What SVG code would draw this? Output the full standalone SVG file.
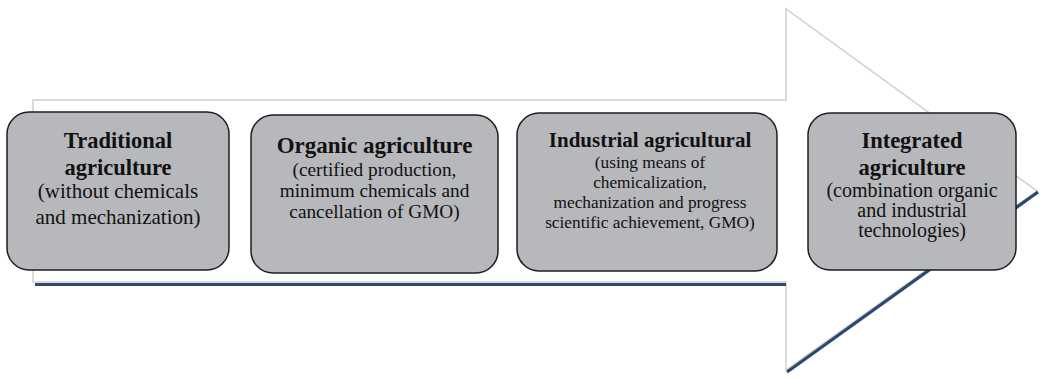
<svg xmlns="http://www.w3.org/2000/svg" width="1042" height="379" viewBox="0 0 1042 379">
<style>
.box{fill:#b7b8bc;stroke:#1e1e1e;stroke-width:1.5}
</style>
<rect width="1042" height="379" fill="#fff"/>
<g id="connectors">
<polygon points="33,100 786,100 786,9 1037,191 786,370 786,282 33,282" fill="#fff" stroke="#d0d0d0" stroke-width="1.5"/>
<line x1="35" y1="284.5" x2="786" y2="284.5" stroke="#2c4770" stroke-width="3.2"/>
<line x1="787" y1="372" x2="1038" y2="192" stroke="#2c4770" stroke-width="3.2"/>
</g>
<g id="node1">
<rect class="box" x="7" y="112" width="222" height="158" rx="22"/>
<text font-family="Liberation Serif" text-anchor="middle" fill="#111" x="118" y="198" font-size="21">(without chemicals</text>
<text font-family="Liberation Serif" text-anchor="middle" fill="#111" x="118" y="224" font-size="21">and mechanization)</text>
<text font-family="Liberation Serif" font-weight="bold" text-anchor="middle" fill="#111" x="118" y="148" font-size="22.5">Traditional</text>
<text font-family="Liberation Serif" font-weight="bold" text-anchor="middle" fill="#111" x="118" y="175" font-size="22.5">agriculture</text>
</g>
<g id="node2">
<rect class="box" x="251" y="115" width="247" height="158" rx="22"/>
<text font-family="Liberation Serif" text-anchor="middle" fill="#111" x="374.5" y="176" font-size="19.3">(certified production,</text>
<text font-family="Liberation Serif" text-anchor="middle" fill="#111" x="374.5" y="197" font-size="19.3">minimum chemicals and</text>
<text font-family="Liberation Serif" text-anchor="middle" fill="#111" x="374.5" y="218" font-size="19.3">cancellation of GMO)</text>
<text font-family="Liberation Serif" font-weight="bold" text-anchor="middle" fill="#111" x="374.5" y="153" font-size="23">Organic agriculture</text>
</g>
<g id="node3">
<rect class="box" x="517" y="113" width="260" height="158" rx="22"/>
<text font-family="Liberation Serif" text-anchor="middle" fill="#111" x="650" y="168" font-size="17.3">(using means of</text>
<text font-family="Liberation Serif" text-anchor="middle" fill="#111" x="650" y="188" font-size="17.3">chemicalization,</text>
<text font-family="Liberation Serif" text-anchor="middle" fill="#111" x="650" y="208" font-size="17.3">mechanization and progress</text>
<text font-family="Liberation Serif" text-anchor="middle" fill="#111" x="650" y="228" font-size="17.3">scientific achievement, GMO)</text>
<text font-family="Liberation Serif" font-weight="bold" text-anchor="middle" fill="#111" x="650" y="146.5" font-size="21">Industrial agricultural</text>
</g>
<g id="node4">
<rect class="box" x="808" y="113" width="208" height="157" rx="22"/>
<text font-family="Liberation Serif" text-anchor="middle" fill="#111" x="912" y="196.5" font-size="20">(combination organic</text>
<text font-family="Liberation Serif" text-anchor="middle" fill="#111" x="912" y="216.5" font-size="20">and industrial</text>
<text font-family="Liberation Serif" text-anchor="middle" fill="#111" x="912" y="236.5" font-size="20">technologies)</text>
<text font-family="Liberation Serif" font-weight="bold" text-anchor="middle" fill="#111" x="912" y="148" font-size="22.5">Integrated</text>
<text font-family="Liberation Serif" font-weight="bold" text-anchor="middle" fill="#111" x="912" y="175" font-size="22.5">agriculture</text>
</g>
</svg>
